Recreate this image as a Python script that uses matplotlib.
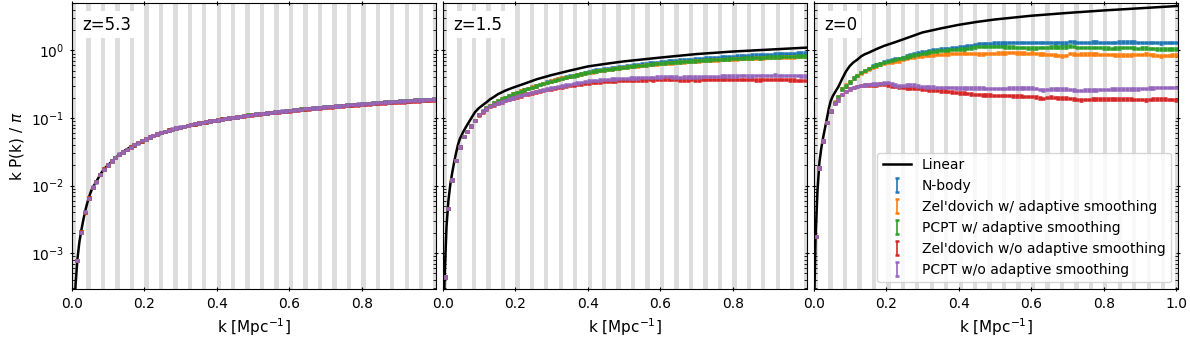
import numpy as np
import matplotlib
matplotlib.use('Agg')
import matplotlib.pyplot as plt

# ---------------- data ---------------- #

# k bin centres of the measured spectra (bin width 2*pi/600 Mpc^-1)
k_bin = 0.01047
k = (np.arange(96) + 0.5) * k_bin

# linear theory curves
k_lin = [0.002, 0.0052, 0.0105, 0.0157, 0.021, 0.0262, 0.0314, 0.0366, 0.0419, 0.0471,
         0.0524, 0.0576, 0.068, 0.0785, 0.089, 0.0995, 0.110, 0.120, 0.131, 0.141,
         0.152, 0.173, 0.194, 0.225, 0.26, 0.30, 0.35, 0.40, 0.45, 0.50,
         0.60, 0.70, 0.80, 0.90, 1.00, 1.02]
lin_z53 = [1.2e-5, 8e-5, 3.4e-4, 8.2e-4, 1.45e-3, 2.15e-3, 3.0e-3, 4.1e-3, 5.3e-3, 6.6e-3,
           8.0e-3, 9.3e-3, 1.15e-2, 1.45e-2, 1.75e-2, 2.0e-2, 2.25e-2, 2.55e-2, 2.85e-2, 3.15e-2,
           3.45e-2, 4.0e-2, 4.55e-2, 5.3e-2, 6.2e-2, 7.2e-2, 8.3e-2, 9.3e-2, 0.102, 0.110,
           0.126, 0.141, 0.155, 0.168, 0.180, 0.182]
lin_z15 = [7e-5, 4.5e-4, 2.5e-3, 6e-3, 1.05e-2, 1.55e-2, 2.2e-2, 3.0e-2, 4.0e-2, 4.9e-2,
           5.6e-2, 6.4e-2, 8.0e-2, 9.9e-2, 0.122, 0.140, 0.155, 0.170, 0.190, 0.205,
           0.225, 0.255, 0.282, 0.322, 0.376, 0.432, 0.503, 0.58, 0.635, 0.69,
           0.785, 0.885, 0.965, 1.03, 1.10, 1.11]
lin_z0 = [2.7e-4, 1.8e-3, 8.5e-3, 0.022, 0.036, 0.052, 0.072, 0.10, 0.14, 0.18,
          0.21, 0.235, 0.29, 0.38, 0.49, 0.59, 0.67, 0.73, 0.82, 0.88,
          0.93, 1.05, 1.17, 1.33, 1.55, 1.85, 2.12, 2.4, 2.65, 2.88,
          3.27, 3.6, 3.92, 4.22, 4.55, 4.6]

# z = 5.3
nbody_z53 = [
    7.5e-5, 7.7e-4, 2.05e-3, 4.0e-3, 6.5e-3, 9.4e-3, 0.0115, 0.0145, 0.0175, 0.020,
    0.023, 0.026, 0.029, 0.0315, 0.034, 0.037, 0.040, 0.043, 0.046, 0.049,
    0.052, 0.055, 0.058, 0.061, 0.063, 0.066, 0.068, 0.071, 0.073, 0.075,
    0.077, 0.080, 0.082, 0.084, 0.086, 0.088, 0.090, 0.092, 0.094, 0.096,
    0.098, 0.100, 0.102, 0.104, 0.106, 0.108, 0.110, 0.112, 0.114, 0.116,
    0.117, 0.119, 0.121, 0.123, 0.124, 0.126, 0.128, 0.130, 0.132, 0.134,
    0.135, 0.137, 0.139, 0.140, 0.142, 0.143, 0.145, 0.147, 0.149, 0.150,
    0.152, 0.154, 0.155, 0.157, 0.159, 0.160, 0.162, 0.163, 0.165, 0.167,
    0.169, 0.170, 0.172, 0.173, 0.175, 0.176, 0.178, 0.179, 0.181, 0.182,
    0.184, 0.185, 0.186, 0.188, 0.189, 0.190]
# the adaptive-smoothing runs cannot be told apart from N-body at z=5.3
zel_as_z53 = list(nbody_z53)
pcpt_as_z53 = list(nbody_z53)
zel_noas_z53 = [
    7.5e-5, 7.7e-4, 2.05e-3, 4.0e-3, 6.5e-3, 9.4e-3, 0.0115, 0.0145, 0.0175, 0.020,
    0.023, 0.026, 0.029, 0.0315, 0.034, 0.037, 0.040, 0.043, 0.046, 0.049,
    0.052, 0.055, 0.058, 0.061, 0.063, 0.066, 0.068, 0.071, 0.073, 0.075,
    0.077, 0.080, 0.082, 0.084, 0.086, 0.088, 0.090, 0.092, 0.094, 0.096,
    0.098, 0.100, 0.102, 0.104, 0.106, 0.107, 0.109, 0.111, 0.113, 0.115,
    0.116, 0.118, 0.120, 0.121, 0.122, 0.124, 0.126, 0.128, 0.130, 0.131,
    0.133, 0.135, 0.136, 0.138, 0.139, 0.141, 0.143, 0.144, 0.146, 0.147,
    0.149, 0.150, 0.152, 0.154, 0.155, 0.157, 0.158, 0.160, 0.161, 0.163,
    0.164, 0.166, 0.167, 0.169, 0.170, 0.171, 0.173, 0.174, 0.176, 0.177,
    0.178, 0.180, 0.181, 0.182, 0.183, 0.184]
pcpt_noas_z53 = [
    7.5e-5, 7.8e-4, 2.0e-3, 4.1e-3, 6.4e-3, 9.5e-3, 0.0113, 0.0147, 0.0173, 0.0202,
    0.0232, 0.0258, 0.0292, 0.0313, 0.0342, 0.0368, 0.0402, 0.0428, 0.0462, 0.0488,
    0.0522, 0.0548, 0.0582, 0.0608, 0.0632, 0.0658, 0.0683, 0.0708, 0.0732, 0.0752,
    0.0772, 0.0798, 0.0822, 0.0838, 0.0862, 0.0882, 0.0898, 0.0922, 0.0942, 0.0958,
    0.0982, 0.1002, 0.1018, 0.1042, 0.1058, 0.1082, 0.1098, 0.1122, 0.1138, 0.1162,
    0.1168, 0.1192, 0.1208, 0.1232, 0.1238, 0.1262, 0.1278, 0.1302, 0.1318, 0.1342,
    0.1348, 0.1372, 0.1388, 0.1402, 0.1418, 0.1432, 0.1452, 0.1468, 0.1492, 0.1502,
    0.1518, 0.1542, 0.1548, 0.1572, 0.1588, 0.1602, 0.1618, 0.1632, 0.1652, 0.1668,
    0.1692, 0.1698, 0.1722, 0.1728, 0.1752, 0.1762, 0.1782, 0.1788, 0.1812, 0.1818,
    0.1842, 0.1852, 0.1858, 0.1882, 0.1892, 0.1902]

# z = 1.5
nbody_z15 = [
    4.4e-4, 4.56e-3, 0.012, 0.0235, 0.0371, 0.0532, 0.063, 0.0766, 0.0918, 0.113,
    0.127, 0.141, 0.154, 0.167, 0.179, 0.191, 0.203, 0.215, 0.228, 0.240,
    0.251, 0.262, 0.274, 0.287, 0.300, 0.313, 0.326, 0.339, 0.353, 0.366,
    0.378, 0.392, 0.405, 0.417, 0.429, 0.443, 0.456, 0.470, 0.484, 0.497,
    0.511, 0.521, 0.530, 0.541, 0.552, 0.562, 0.571, 0.580, 0.590, 0.600,
    0.611, 0.620, 0.631, 0.640, 0.651, 0.660, 0.669, 0.678, 0.687, 0.697,
    0.704, 0.712, 0.720, 0.727, 0.734, 0.742, 0.750, 0.758, 0.766, 0.773,
    0.780, 0.787, 0.794, 0.801, 0.808, 0.814, 0.821, 0.828, 0.834, 0.840,
    0.846, 0.852, 0.858, 0.864, 0.869, 0.875, 0.880, 0.886, 0.891, 0.896,
    0.901, 0.905, 0.908, 0.912, 0.914, 0.915]
zel_as_z15 = [
    4.4e-4, 4.56e-3, 0.012, 0.0235, 0.0371, 0.0532, 0.063, 0.0766, 0.0918, 0.112,
    0.126, 0.141, 0.154, 0.167, 0.179, 0.191, 0.203, 0.215, 0.227, 0.239,
    0.250, 0.262, 0.274, 0.287, 0.300, 0.313, 0.326, 0.338, 0.352, 0.364,
    0.376, 0.389, 0.401, 0.412, 0.423, 0.436, 0.448, 0.460, 0.472, 0.484,
    0.496, 0.505, 0.514, 0.524, 0.533, 0.542, 0.550, 0.558, 0.566, 0.575,
    0.583, 0.591, 0.600, 0.608, 0.616, 0.624, 0.632, 0.639, 0.646, 0.653,
    0.658, 0.665, 0.671, 0.677, 0.683, 0.689, 0.695, 0.701, 0.707, 0.712,
    0.717, 0.722, 0.727, 0.732, 0.737, 0.741, 0.746, 0.751, 0.755, 0.759,
    0.764, 0.768, 0.772, 0.776, 0.780, 0.784, 0.787, 0.791, 0.794, 0.798,
    0.801, 0.804, 0.807, 0.810, 0.813, 0.815]
pcpt_as_z15 = [
    4.4e-4, 4.56e-3, 0.012, 0.0235, 0.0371, 0.0532, 0.063, 0.0766, 0.0918, 0.112,
    0.126, 0.140, 0.153, 0.166, 0.178, 0.190, 0.202, 0.214, 0.226, 0.238,
    0.249, 0.260, 0.272, 0.285, 0.298, 0.311, 0.324, 0.336, 0.350, 0.362,
    0.374, 0.387, 0.400, 0.411, 0.422, 0.436, 0.448, 0.461, 0.474, 0.486,
    0.499, 0.508, 0.516, 0.526, 0.530, 0.545, 0.553, 0.561, 0.569, 0.578,
    0.587, 0.595, 0.600, 0.612, 0.621, 0.629, 0.637, 0.644, 0.651, 0.659,
    0.668, 0.671, 0.677, 0.683, 0.689, 0.695, 0.701, 0.712, 0.714, 0.720,
    0.725, 0.730, 0.736, 0.741, 0.746, 0.749, 0.756, 0.761, 0.766, 0.770,
    0.775, 0.779, 0.783, 0.780, 0.792, 0.796, 0.800, 0.804, 0.807, 0.811,
    0.818, 0.818, 0.821, 0.825, 0.828, 0.832]
zel_noas_z15 = [
    4.4e-4, 4.56e-3, 0.012, 0.0235, 0.0371, 0.0532, 0.063, 0.0766, 0.0918, 0.111,
    0.123, 0.136, 0.147, 0.157, 0.165, 0.173, 0.181, 0.188, 0.197, 0.205,
    0.213, 0.221, 0.228, 0.236, 0.243, 0.250, 0.257, 0.264, 0.270, 0.277,
    0.283, 0.290, 0.296, 0.302, 0.308, 0.314, 0.320, 0.326, 0.331, 0.335,
    0.340, 0.344, 0.347, 0.350, 0.353, 0.356, 0.358, 0.360, 0.362, 0.365,
    0.367, 0.368, 0.366, 0.368, 0.370, 0.368, 0.372, 0.375, 0.378, 0.380,
    0.378, 0.372, 0.368, 0.367, 0.368, 0.370, 0.368, 0.366, 0.370, 0.373,
    0.375, 0.372, 0.375, 0.377, 0.376, 0.375, 0.373, 0.370, 0.372, 0.375,
    0.374, 0.370, 0.368, 0.368, 0.370, 0.372, 0.370, 0.372, 0.375, 0.373,
    0.370, 0.368, 0.365, 0.362, 0.360, 0.360]
pcpt_noas_z15 = [
    4.4e-4, 4.56e-3, 0.012, 0.0235, 0.0371, 0.0532, 0.063, 0.0766, 0.0918, 0.112,
    0.124, 0.137, 0.148, 0.158, 0.166, 0.174, 0.182, 0.190, 0.199, 0.207,
    0.215, 0.223, 0.231, 0.239, 0.247, 0.255, 0.262, 0.270, 0.278, 0.285,
    0.292, 0.300, 0.307, 0.313, 0.322, 0.330, 0.338, 0.345, 0.351, 0.357,
    0.362, 0.367, 0.371, 0.375, 0.378, 0.381, 0.384, 0.386, 0.388, 0.390,
    0.392, 0.394, 0.396, 0.398, 0.400, 0.400, 0.402, 0.405, 0.410, 0.412,
    0.408, 0.403, 0.400, 0.402, 0.404, 0.405, 0.403, 0.406, 0.410, 0.412,
    0.414, 0.412, 0.415, 0.418, 0.420, 0.422, 0.421, 0.420, 0.423, 0.425,
    0.422, 0.420, 0.424, 0.428, 0.430, 0.428, 0.430, 0.432, 0.428, 0.425,
    0.424, 0.428, 0.430, 0.425, 0.422, 0.422]

# z = 0
nbody_z0 = [
    1.75e-3, 0.0181, 0.046, 0.0858, 0.128, 0.170, 0.204, 0.268, 0.300, 0.340,
    0.390, 0.430, 0.470, 0.510, 0.545, 0.585, 0.617, 0.642, 0.672, 0.698,
    0.723, 0.745, 0.765, 0.790, 0.825, 0.860, 0.900, 0.925, 0.950, 0.970,
    0.990, 1.020, 1.030, 1.045, 1.060, 1.080, 1.090, 1.100, 1.120, 1.140,
    1.160, 1.190, 1.230, 1.270, 1.280, 1.270, 1.280, 1.290, 1.290, 1.300,
    1.300, 1.310, 1.320, 1.310, 1.320, 1.310, 1.320, 1.320, 1.310, 1.320,
    1.310, 1.320, 1.310, 1.300, 1.310, 1.290, 1.300, 1.350, 1.340, 1.310,
    1.310, 1.320, 1.320, 1.330, 1.330, 1.320, 1.310, 1.320, 1.310, 1.320,
    1.330, 1.330, 1.340, 1.340, 1.330, 1.320, 1.320, 1.310, 1.320, 1.310,
    1.310, 1.300, 1.310, 1.320, 1.320, 1.310]
zel_as_z0 = [
    1.75e-3, 0.0181, 0.046, 0.0858, 0.128, 0.172, 0.210, 0.275, 0.310, 0.345,
    0.390, 0.425, 0.465, 0.500, 0.530, 0.565, 0.590, 0.615, 0.640, 0.660,
    0.680, 0.690, 0.700, 0.730, 0.760, 0.785, 0.800, 0.815, 0.830, 0.845,
    0.855, 0.863, 0.870, 0.880, 0.885, 0.892, 0.900, 0.905, 0.910, 0.913,
    0.910, 0.900, 0.895, 0.890, 0.892, 0.900, 0.905, 0.910, 0.913, 0.920,
    0.925, 0.930, 0.934, 0.925, 0.915, 0.913, 0.910, 0.913, 0.900, 0.890,
    0.885, 0.880, 0.870, 0.860, 0.845, 0.835, 0.850, 0.910, 0.890, 0.880,
    0.890, 0.892, 0.885, 0.882, 0.882, 0.880, 0.875, 0.870, 0.865, 0.863,
    0.860, 0.862, 0.863, 0.863, 0.865, 0.870, 0.872, 0.882, 0.875, 0.860,
    0.845, 0.835, 0.840, 0.850, 0.858, 0.863]
pcpt_as_z0 = [
    1.75e-3, 0.0181, 0.046, 0.0858, 0.128, 0.170, 0.204, 0.268, 0.300, 0.340,
    0.390, 0.430, 0.470, 0.510, 0.545, 0.580, 0.610, 0.635, 0.665, 0.690,
    0.715, 0.735, 0.755, 0.775, 0.800, 0.830, 0.855, 0.875, 0.895, 0.920,
    0.945, 0.965, 0.980, 0.995, 1.005, 1.020, 1.030, 1.035, 1.045, 1.055,
    1.070, 1.090, 1.120, 1.150, 1.150, 1.140, 1.140, 1.150, 1.146, 1.140,
    1.130, 1.120, 1.120, 1.110, 1.100, 1.100, 1.090, 1.085, 1.090, 1.100,
    1.110, 1.110, 1.120, 1.120, 1.130, 1.120, 1.130, 1.170, 1.140, 1.110,
    1.108, 1.110, 1.110, 1.108, 1.110, 1.100, 1.090, 1.085, 1.080, 1.085,
    1.090, 1.100, 1.108, 1.100, 1.090, 1.080, 1.085, 1.083, 1.080, 1.070,
    1.060, 1.050, 1.047, 1.050, 1.047, 1.045]
zel_noas_z0 = [
    1.75e-3, 0.0181, 0.046, 0.0858, 0.128, 0.163, 0.186, 0.221, 0.247, 0.268,
    0.285, 0.295, 0.305, 0.308, 0.310, 0.310, 0.310, 0.318, 0.320, 0.310,
    0.300, 0.292, 0.287, 0.285, 0.280, 0.278, 0.277, 0.274, 0.270, 0.265,
    0.262, 0.260, 0.256, 0.252, 0.250, 0.247, 0.243, 0.238, 0.235, 0.233,
    0.230, 0.227, 0.224, 0.221, 0.220, 0.219, 0.218, 0.217, 0.216, 0.215,
    0.214, 0.214, 0.213, 0.212, 0.211, 0.210, 0.209, 0.208, 0.205, 0.198,
    0.195, 0.203, 0.204, 0.200, 0.198, 0.197, 0.197, 0.195, 0.192, 0.188,
    0.186, 0.187, 0.188, 0.190, 0.190, 0.190, 0.190, 0.190, 0.190, 0.190,
    0.190, 0.190, 0.190, 0.190, 0.189, 0.188, 0.187, 0.186, 0.188, 0.190,
    0.190, 0.190, 0.190, 0.189, 0.187, 0.186]
pcpt_noas_z0 = [
    1.75e-3, 0.0181, 0.046, 0.0858, 0.128, 0.163, 0.186, 0.221, 0.247, 0.268,
    0.285, 0.295, 0.305, 0.310, 0.315, 0.318, 0.320, 0.322, 0.330, 0.335,
    0.320, 0.310, 0.300, 0.305, 0.307, 0.307, 0.306, 0.300, 0.295, 0.290,
    0.288, 0.286, 0.285, 0.284, 0.283, 0.283, 0.281, 0.279, 0.277, 0.277,
    0.277, 0.277, 0.277, 0.277, 0.277, 0.276, 0.275, 0.274, 0.274, 0.275,
    0.276, 0.277, 0.277, 0.277, 0.277, 0.277, 0.277, 0.277, 0.272, 0.265,
    0.261, 0.265, 0.267, 0.267, 0.268, 0.267, 0.267, 0.265, 0.260, 0.256,
    0.256, 0.258, 0.260, 0.261, 0.262, 0.263, 0.265, 0.266, 0.267, 0.267,
    0.267, 0.267, 0.268, 0.268, 0.268, 0.270, 0.272, 0.275, 0.277, 0.279,
    0.281, 0.283, 0.284, 0.283, 0.283, 0.283]

redshift_labels = ['z=5.3', 'z=1.5', 'z=0']
series_labels = ["N-body", "Zel'dovich w/ adaptive smoothing", "PCPT w/ adaptive smoothing",
                 "Zel'dovich w/o adaptive smoothing", "PCPT w/o adaptive smoothing"]
series_colors = ['tab:blue', 'tab:orange', 'tab:green', 'tab:red', 'tab:purple']
err_frac = 0.025  # relative error bar size

# grey bands marking excluded k ranges
band_centers = 0.0065 + 0.0399 * np.arange(26)
band_width = 0.012

# ---------------- plot ---------------- #

panels = [
    (lin_z53, [nbody_z53, zel_as_z53, pcpt_as_z53, zel_noas_z53, pcpt_noas_z53]),
    (lin_z15, [nbody_z15, zel_as_z15, pcpt_as_z15, zel_noas_z15, pcpt_noas_z15]),
    (lin_z0, [nbody_z0, zel_as_z0, pcpt_as_z0, zel_noas_z0, pcpt_noas_z0]),
]

fig, axes = plt.subplots(1, 3, figsize=(11.9, 3.4), dpi=100, sharey=True)
fig.subplots_adjust(left=0.0603, right=0.9899, bottom=0.149, top=0.992, wspace=0.0184)

for i, (ax, (lin, series)) in enumerate(zip(axes, panels)):
    for c in band_centers:
        ax.axvspan(c - band_width / 2, c + band_width / 2, color='#dddddd', lw=0, zorder=0)

    ax.plot(k_lin, lin, color='black', lw=1.8, label='Linear')
    for vals, col, lab in zip(series, series_colors, series_labels):
        v = np.array(vals)
        ax.errorbar(k, v, yerr=err_frac * v, fmt='none', ecolor=col,
                    elinewidth=1.2, capsize=1.5, capthick=1.8, label=lab)

    ax.set_yscale('log')
    ax.set_xlim(0, 1.005)
    ax.set_ylim(2.9e-4, 5.1)
    if i < 2:
        ax.set_xticks([0.0, 0.2, 0.4, 0.6, 0.8])
    else:
        ax.set_xticks([0.0, 0.2, 0.4, 0.6, 0.8, 1.0])
    ax.set_xlabel('k [Mpc$^{-1}$]', fontsize=11)
    ax.tick_params(which='major', direction='inout', top=True, right=True)
    ax.tick_params(which='minor', direction='in', top=True, right=True)

    ax.text(0.028, 0.955, redshift_labels[i], transform=ax.transAxes, fontsize=12,
            ha='left', va='top', zorder=5,
            bbox=dict(facecolor='white', edgecolor='none', pad=3))

axes[0].set_ylabel('k P(k) / $\\pi$', fontsize=11)
axes[2].legend(loc='lower right', fontsize=10)

fig.savefig('out.png', dpi=100)
